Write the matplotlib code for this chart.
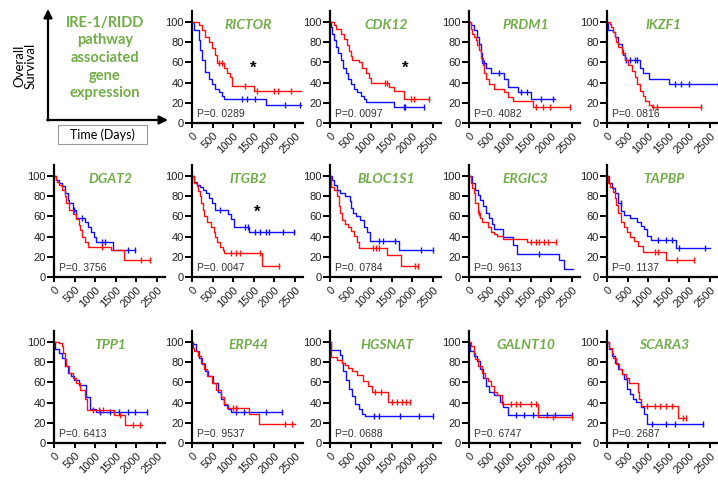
import numpy as np
import matplotlib
matplotlib.use("Agg")
import matplotlib.pyplot as plt
from matplotlib.patches import Rectangle

# Kaplan-Meier step data (days, % survival); red = one group, blue = other
RICTOR_RED_T = [0, 160, 245, 325, 405, 490, 570, 610, 770, 855, 935, 975, 1505, 2650]
RICTOR_RED_S = [100, 97, 92, 85, 80, 74, 67, 59, 55, 50, 46, 37, 32, 32]
RICTOR_RED_C = [650, 730, 1300, 1590, 2000, 2080, 2400]
RICTOR_BLUE_T = [0, 40, 165, 205, 245, 325, 405, 490, 570, 650, 730, 770, 1790, 2650]
RICTOR_BLUE_S = [100, 92, 82, 72, 62, 51, 44, 39, 34, 31, 27, 24, 18, 18]
RICTOR_BLUE_C = [1220, 1340, 1540, 2270, 2620]

CDK12_RED_T = [0, 100, 140, 260, 340, 420, 465, 505, 545, 710, 790, 870, 950, 990, 1440, 1560, 1805, 2415]
CDK12_RED_S = [100, 97, 93, 88, 83, 77, 71, 66, 62, 60, 55, 50, 45, 40, 36, 32, 24, 24]
CDK12_RED_C = [1340, 1380, 1980, 2050, 2415]
CDK12_BLUE_T = [0, 15, 55, 100, 140, 205, 260, 315, 380, 445, 505, 585, 665, 750, 830, 870, 1560, 2290]
CDK12_BLUE_S = [100, 95, 88, 82, 75, 69, 62, 55, 50, 44, 39, 34, 31, 27, 24, 21, 16, 16]
CDK12_BLUE_C = [1800, 1830, 2290]

PRDM1_RED_T = [0, 40, 80, 125, 165, 205, 245, 285, 330, 370, 410, 490, 615, 860, 945, 1065, 1560, 2460]
PRDM1_RED_S = [100, 93, 88, 85, 82, 77, 72, 64, 57, 50, 44, 39, 34, 31, 26, 22, 16, 16]
PRDM1_RED_C = [1640, 1810, 1970, 2460]
PRDM1_BLUE_T = [0, 40, 125, 205, 245, 285, 305, 410, 535, 860, 945, 1190, 1520, 2090]
PRDM1_BLUE_S = [100, 97, 92, 85, 78, 69, 59, 55, 50, 44, 36, 31, 24, 24]
PRDM1_BLUE_C = [370, 740, 1270, 1400, 1760, 2050]

IKZF1_RED_T = [0, 65, 105, 150, 190, 230, 270, 355, 435, 515, 600, 680, 720, 805, 885, 925, 1010, 1090, 2280]
IKZF1_RED_S = [100, 98, 95, 90, 85, 80, 75, 69, 62, 57, 52, 46, 39, 32, 27, 22, 18, 16, 16]
IKZF1_RED_C = [1130, 1210, 2280]
IKZF1_BLUE_T = [0, 25, 150, 190, 270, 355, 395, 440, 805, 885, 1010, 1500, 2700]
IKZF1_BLUE_S = [100, 92, 90, 85, 78, 72, 67, 62, 55, 50, 44, 39, 39]
IKZF1_BLUE_C = [460, 560, 680, 720, 1660, 1790, 1990, 2700]

DGAT2_RED_T = [0, 40, 75, 115, 190, 265, 300, 375, 450, 525, 600, 640, 680, 755, 830, 1395, 1695, 2335]
DGAT2_RED_S = [100, 96, 94, 91, 86, 80, 73, 66, 62, 57, 52, 47, 40, 35, 30, 27, 17, 17]
DGAT2_RED_C = [1170, 2110, 2335]
DGAT2_BLUE_T = [0, 40, 115, 190, 265, 340, 375, 450, 525, 755, 830, 905, 980, 1020, 1430, 1960]
DGAT2_BLUE_S = [100, 96, 93, 90, 83, 76, 73, 66, 58, 55, 50, 45, 40, 35, 27, 27]
DGAT2_BLUE_C = [490, 680, 1160, 1240, 1810, 1960]

ITGB2_RED_T = [0, 40, 115, 150, 190, 225, 265, 300, 375, 450, 525, 565, 600, 680, 755, 790, 1695, 2110]
ITGB2_RED_S = [100, 93, 90, 85, 80, 73, 66, 60, 55, 50, 45, 40, 35, 30, 27, 24, 11, 11]
ITGB2_RED_C = [940, 1060, 1170, 1660, 2110]
ITGB2_BLUE_T = [0, 40, 115, 190, 265, 340, 415, 490, 565, 865, 940, 1015, 1395, 2490]
ITGB2_BLUE_S = [100, 94, 91, 89, 86, 83, 78, 73, 66, 62, 57, 50, 45, 45]
ITGB2_BLUE_C = [680, 1280, 1360, 1540, 1660, 1810, 1880, 2220, 2490]

BLOC1S1_RED_T = [0, 25, 100, 175, 210, 250, 285, 360, 440, 515, 590, 665, 700, 1380, 1720, 2140]
BLOC1S1_RED_S = [100, 89, 86, 80, 70, 63, 56, 53, 50, 46, 41, 35, 29, 22, 11, 11]
BLOC1S1_RED_C = [1050, 1130, 1200, 2060, 2140]
BLOC1S1_BLUE_T = [0, 60, 100, 175, 250, 360, 475, 515, 550, 625, 740, 815, 890, 965, 1685, 2515]
BLOC1S1_BLUE_S = [100, 96, 91, 86, 83, 80, 75, 68, 63, 60, 56, 50, 45, 36, 27, 27]
BLOC1S1_BLUE_C = [1200, 1280, 1580, 2210, 2515]

ERGIC3_RED_T = [0, 40, 75, 115, 150, 210, 265, 305, 455, 530, 605, 680, 835, 1400, 2120]
ERGIC3_RED_S = [100, 93, 88, 83, 73, 63, 58, 55, 50, 45, 43, 41, 38, 35, 35]
ERGIC3_RED_C = [240, 1520, 1630, 1710, 1820, 1930, 2120]
ERGIC3_BLUE_T = [0, 75, 150, 210, 265, 340, 415, 495, 570, 605, 835, 1060, 1175, 2200, 2310, 2540]
ERGIC3_BLUE_S = [100, 93, 86, 81, 76, 70, 63, 58, 53, 48, 40, 32, 23, 17, 8, 8]
ERGIC3_BLUE_C = [1700]

TAPBP_RED_T = [0, 25, 75, 150, 190, 225, 265, 340, 415, 495, 570, 645, 760, 870, 1440, 2120]
TAPBP_RED_S = [100, 93, 89, 84, 78, 71, 63, 55, 50, 45, 40, 36, 31, 25, 17, 17]
TAPBP_RED_C = [1170, 1250, 1700, 2120]
TAPBP_BLUE_T = [0, 40, 115, 190, 265, 340, 415, 570, 720, 835, 910, 985, 1060, 1670, 2500]
TAPBP_BLUE_S = [100, 93, 88, 83, 73, 65, 61, 58, 55, 51, 48, 41, 37, 29, 29]
TAPBP_BLUE_C = [330, 1250, 1440, 1590, 1740, 2380]

TPP1_RED_T = [0, 110, 190, 225, 265, 300, 375, 450, 525, 640, 750, 805, 1465, 1725, 2140]
TPP1_RED_S = [100, 99, 96, 89, 83, 76, 69, 64, 59, 53, 44, 33, 28, 18, 18]
TPP1_RED_C = [940, 1090, 1200, 1600, 1920, 2100]
TPP1_BLUE_T = [0, 15, 115, 190, 265, 340, 415, 490, 600, 790, 865, 1015, 2250]
TPP1_BLUE_S = [100, 93, 89, 84, 76, 69, 66, 62, 57, 46, 34, 31, 31]
TPP1_BLUE_C = [1120, 1350, 1570, 1800, 1960, 2250]

ERP44_RED_T = [0, 25, 60, 135, 210, 285, 360, 475, 585, 700, 775, 850, 1390, 1635, 2500]
ERP44_RED_S = [100, 94, 91, 86, 79, 73, 66, 59, 53, 46, 39, 35, 29, 19, 19]
ERP44_RED_C = [1000, 1070, 2250, 2440]
ERP44_BLUE_T = [0, 25, 100, 175, 250, 325, 400, 510, 625, 700, 775, 885, 960, 2200]
ERP44_BLUE_S = [100, 98, 91, 84, 78, 71, 66, 59, 51, 44, 38, 34, 31, 31]
ERP44_BLUE_C = [1070, 1260, 1810, 2200]

HGSNAT_RED_T = [0, 15, 165, 280, 355, 430, 540, 655, 805, 920, 1030, 1410, 1935]
HGSNAT_RED_S = [100, 85, 82, 79, 77, 74, 71, 67, 61, 56, 51, 41, 41]
HGSNAT_RED_C = [1100, 1240, 1520, 1630, 1740, 1860, 1935]
HGSNAT_BLUE_T = [0, 30, 240, 280, 315, 390, 465, 540, 615, 695, 770, 845, 2500]
HGSNAT_BLUE_S = [100, 92, 87, 79, 71, 62, 54, 47, 39, 34, 29, 27, 27]
HGSNAT_BLUE_C = [1070, 1180, 1700, 2160, 2500]

GALNT10_RED_T = [0, 40, 115, 150, 225, 305, 380, 455, 530, 605, 680, 795, 1670, 2500]
GALNT10_RED_S = [100, 96, 89, 83, 76, 69, 64, 61, 56, 51, 48, 39, 26, 26]
GALNT10_RED_C = [1020, 1140, 1250, 1520, 1630, 2040, 2500]
GALNT10_BLUE_T = [0, 15, 115, 190, 265, 340, 415, 495, 605, 760, 835, 950, 2500]
GALNT10_BLUE_S = [100, 91, 86, 81, 73, 64, 56, 51, 48, 41, 36, 28, 28]
GALNT10_BLUE_C = [1140, 1330, 1550, 1890, 2080, 2500]

SCARA3_RED_T = [0, 40, 115, 150, 225, 300, 375, 450, 525, 750, 790, 825, 1725, 1910]
SCARA3_RED_S = [100, 94, 89, 84, 78, 73, 68, 64, 59, 51, 44, 37, 25, 25]
SCARA3_RED_C = [975, 1160, 1280, 1430, 1580, 1840, 1910]
SCARA3_BLUE_T = [0, 40, 115, 190, 265, 375, 415, 490, 565, 640, 715, 825, 900, 975, 2325]
SCARA3_BLUE_S = [100, 93, 86, 79, 73, 68, 63, 54, 49, 44, 41, 36, 29, 19, 19]
SCARA3_BLUE_C = [1090, 1430, 1650, 2325]

GENES = ["RICTOR", "CDK12", "PRDM1", "IKZF1",
         "DGAT2", "ITGB2", "BLOC1S1", "ERGIC3", "TAPBP",
         "TPP1", "ERP44", "HGSNAT", "GALNT10", "SCARA3"]
SLOTS = [(0, 1), (0, 2), (0, 3), (0, 4),
         (1, 0), (1, 1), (1, 2), (1, 3), (1, 4),
         (2, 0), (2, 1), (2, 2), (2, 3), (2, 4)]
P_VALUES = ["0. 0289", "0. 0097", "0. 4082", "0. 0816",
            "0. 3756", "0. 0047", "0. 0784", "0. 9613", "0. 1137",
            "0. 6413", "0. 9537", "0. 0688", "0. 6747", "0. 2687"]
STARS = {"RICTOR": (1480, 54), "CDK12": (1830, 54), "ITGB2": (1575, 64)}
X_TICKS = [0, 500, 1000, 1500, 2000, 2500]
Y_TICKS = [0, 20, 40, 60, 80, 100]

RED = "#FF1010"
BLUE = "#1010FF"
GREEN = "#70AD47"

W, H = 718, 490
COL_X = [54, 192, 330, 469, 607]   # pixel x of each y-axis
ROW_Y0 = [123, 277, 443]           # pixel y of the 0 line
AX_W, AX_H = 111, 112

plt.rcParams['font.family'] = ['Liberation Sans', 'DejaVu Sans']
fig = plt.figure(figsize=(W / 100, H / 100), dpi=100)


def km(ax, t, s, cens, color):
    t = np.array(t)
    s = np.array(s)
    ax.step(t, s, where='post', color=color, lw=1.0, clip_on=False)
    idx = np.searchsorted(t, cens, side='right') - 1
    ax.plot(cens, s[idx], ls='none', marker='|', ms=4, mew=1.0, color=color, clip_on=False)


for gene, (r, c), p in zip(GENES, SLOTS, P_VALUES):
    left = COL_X[c] / W
    bottom = (H - ROW_Y0[r]) / H
    ax = fig.add_axes([left, bottom, AX_W / W, AX_H / H])
    km(ax, globals()[gene + "_BLUE_T"], globals()[gene + "_BLUE_S"], globals()[gene + "_BLUE_C"], BLUE)
    km(ax, globals()[gene + "_RED_T"], globals()[gene + "_RED_S"], globals()[gene + "_RED_C"], RED)
    ax.set_xlim(0, 2700)
    ax.set_ylim(0, 111)
    ax.set_xticks(X_TICKS)
    ax.set_yticks(Y_TICKS)
    ax.set_xticklabels([str(v) for v in X_TICKS], rotation=45, ha='right', va='top',
                       rotation_mode='anchor', fontsize=8, color='#222222')
    ax.set_yticklabels([str(v) for v in Y_TICKS], fontsize=8, color='#222222')
    for side in ['top', 'right']:
        ax.spines[side].set_visible(False)
    for side in ['left', 'bottom']:
        ax.spines[side].set_linewidth(1.6)
    ax.tick_params(axis='y', length=5, width=1.4, pad=1)
    ax.tick_params(axis='x', length=3.5, width=1.4, pad=2)
    ax.patch.set_alpha(0)
    ax.text(0.51, 97, gene, transform=ax.get_yaxis_transform(), ha='center', va='center',
            fontsize=10, fontweight='bold', fontstyle='italic', color=GREEN, family='Lato')
    ax.text(0.045, 4, "P=" + p, transform=ax.get_yaxis_transform(), ha='left', va='bottom',
            fontsize=7.5, color='#333333')
    if gene in STARS:
        sx, sy = STARS[gene]
        ax.text(sx, sy, "*", ha='center', va='center', fontsize=12, fontweight='bold', color='k')

# schematic legend panel, top-left
lg = fig.add_axes([0, 0, 1, 1], zorder=-1)
lg.set_xlim(0, W)
lg.set_ylim(H, 0)
lg.axis('off')
lg.annotate('', xy=(48, 9), xytext=(48, 120.5),
            arrowprops=dict(arrowstyle='-|>,head_length=0.5,head_width=0.25', lw=1.6, color='k',
                            shrinkA=0, shrinkB=0))
lg.annotate('', xy=(168, 120), xytext=(47.2, 120),
            arrowprops=dict(arrowstyle='-|>,head_length=0.5,head_width=0.25', lw=1.6, color='k',
                            shrinkA=0, shrinkB=0))
lg.text(25, 66, "Overall\nSurvival", rotation=90, ha='center', va='center', fontsize=9.5,
        family='Lato', linespacing=1.0)
lg.text(105, 58, "IRE-1/RIDD\npathway\nassociated\ngene\nexpression", ha='center', va='center',
        fontsize=10.5, fontweight='bold', color=GREEN, family='Lato', linespacing=1.32)
lg.add_patch(Rectangle((58, 125), 89, 19, fill=False, edgecolor='#999999', lw=0.8))
lg.text(102.5, 134.5, "Time (Days)", ha='center', va='center', fontsize=9, family='Lato')

fig.savefig("out.png", dpi=100)
